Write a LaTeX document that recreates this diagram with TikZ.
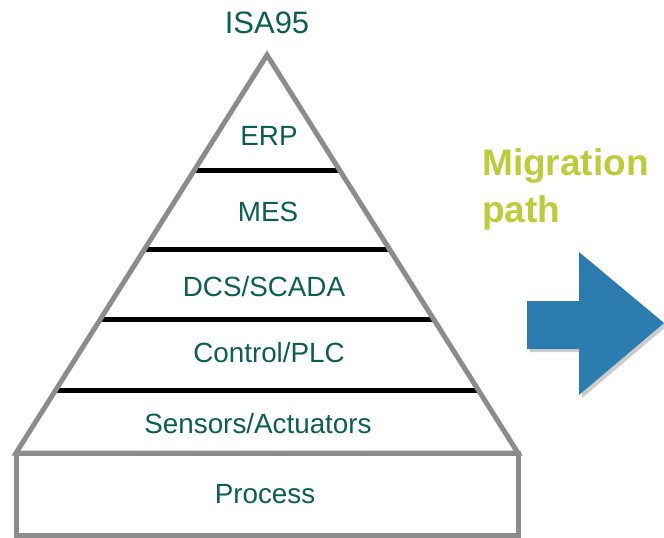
\documentclass[tikz,border=0pt]{standalone}
\usepackage{fontspec}
\setmainfont{Liberation Sans}
\usetikzlibrary{shadows}
\definecolor{labeltext}{RGB}{12,94,82}
\definecolor{edgegray}{RGB}{138,140,142}
\definecolor{migrgreen}{RGB}{187,205,60}
\definecolor{arrowblue}{RGB}{44,124,176}
\tikzset{
  layertext/.style={anchor=base, text=labeltext, font=\fontsize{27.8}{32}\selectfont, inner sep=0pt},
  outline/.style={draw=edgegray, line width=5pt, line join=miter},
  divider/.style={draw=black, line width=5pt},
}
\begin{document}
\begin{tikzpicture}[x=1pt, y=-1pt]
  \useasboundingbox (0,0) rectangle (664,538);
  % pyramid corners
  \coordinate (apex) at (267,55);
  \coordinate (bl) at (16,453);
  \coordinate (br) at (518,453);
  \coordinate (rbl) at (16,535);
  \coordinate (rbr) at (518,535);
  % level dividers
  \coordinate (d1l) at (194,170); \coordinate (d1r) at (340,170);
  \coordinate (d2l) at (145,249); \coordinate (d2r) at (389,249);
  \coordinate (d3l) at (101,319); \coordinate (d3r) at (433,319);
  \coordinate (d4l) at (56,390);  \coordinate (d4r) at (478,390);
  \draw[divider] (d1l) -- (d1r);
  \draw[divider] (d2l) -- (d2r);
  \draw[divider] (d3l) -- (d3r);
  \draw[divider] (d4l) -- (d4r);
  % triangle and process box
  \draw[outline] (bl) -- (apex) -- (br) -- cycle;
  \draw[outline] (bl) rectangle (rbr);
  % labels
  \node[layertext, font=\fontsize{31}{36}\selectfont] (isa) at (267,33) {ISA95};
  \node[layertext] (erp) at (269,145) {ERP};
  \node[layertext] (mes) at (268,221) {MES};
  \node[layertext] (dcs) at (264,296) {DCS/SCADA};
  \node[layertext] (plc) at (269,362) {Control/PLC};
  \node[layertext] (sens) at (258,433) {Sensors/Actuators};
  \node[layertext] (proc) at (265,503) {Process};
  % migration label
  \node[anchor=base west, inner sep=0pt, text=migrgreen, font=\fontsize{37}{47}\bfseries\selectfont] (mig) at (482,175) {Migration};
  \node[anchor=base west, inner sep=0pt, text=migrgreen, font=\fontsize{37}{47}\bfseries\selectfont] (path) at (482,222) {path};
  % migration arrow with drop shadow
  \fill[arrowblue, drop shadow={shadow xshift=3pt, shadow yshift=-3pt, opacity=0.4, fill=gray}]
    (527,301) -- (579,301) -- (579,252) -- (664,323) -- (579,395) -- (579,349) -- (527,349) -- cycle;
\end{tikzpicture}
\end{document}
